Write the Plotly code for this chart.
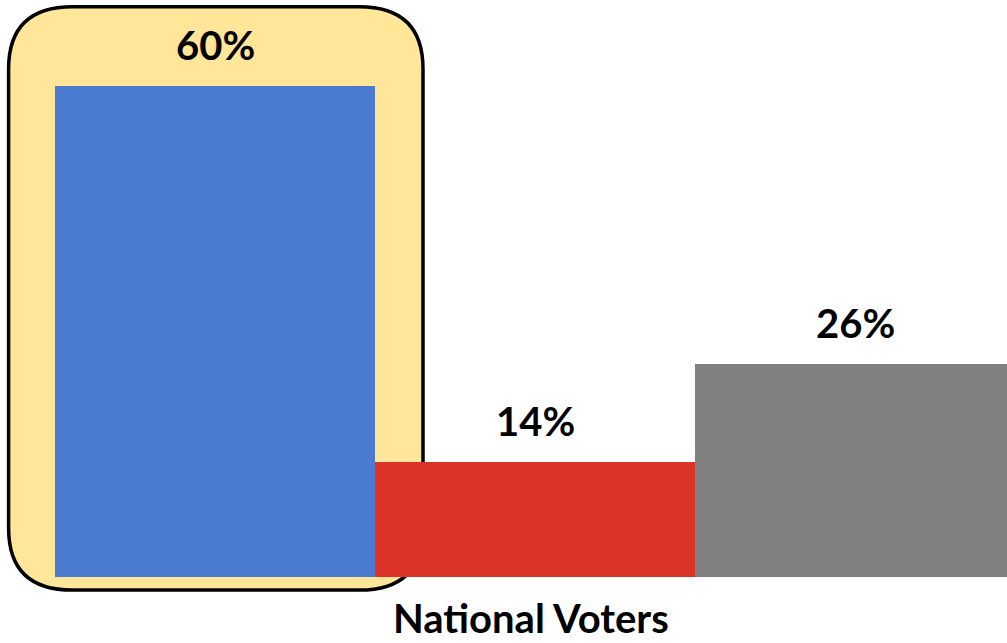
import plotly.graph_objects as go

# data
categories = ["Group A", "Group B", "Group C"]
shares = [60, 14, 26]
labels = ["60%", "14%", "26%"]
bar_colors = ["#4A7BD0", "#DC3328", "#808080"]
axis_title = "National Voters"

FONT = "Lato, Carlito, Calibri, sans-serif"

fig = go.Figure()

fig.add_trace(go.Bar(
    x=[0, 1, 2],
    y=shares,
    width=1,
    marker=dict(color=bar_colors, line=dict(width=0)),
    hoverinfo="skip",
))

# value labels above each bar
for i, (v, t) in enumerate(zip(shares, labels)):
    fig.add_annotation(x=i, y=v, text=f"<b>{t}</b>", showarrow=False,
                       yanchor="bottom", yshift=15,
                       font=dict(family=FONT, size=40, color="black"))

# rounded highlight box around the first bar
x0, x1, y0, y1 = -0.645, 0.65, -1.6, 69.7
rx, ry = 0.2, 7.6
path = (f"M {x0 + rx},{y1} L {x1 - rx},{y1} Q {x1},{y1} {x1},{y1 - ry} "
        f"L {x1},{y0 + ry} Q {x1},{y0} {x1 - rx},{y0} "
        f"L {x0 + rx},{y0} Q {x0},{y0} {x0},{y0 + ry} "
        f"L {x0},{y1 - ry} Q {x0},{y1} {x0 + rx},{y1} Z")
fig.add_shape(type="path", path=path, xref="x", yref="y", layer="below",
              fillcolor="#FFE699", line=dict(color="black", width=3.5))

# axis title
fig.add_annotation(x=0.9875, y=0, xref="x", yref="paper", yanchor="top", yshift=1,
                   text=f"<b>{axis_title}</b>", showarrow=False,
                   font=dict(family=FONT, size=40, color="black"))

fig.update_xaxes(range=[-0.671875, 2.475], visible=False, fixedrange=True)
fig.update_yaxes(range=[-1.955, 70.51], visible=False, fixedrange=True)
fig.update_layout(
    width=1007, height=643,
    margin=dict(l=0, r=0, t=0, b=50),
    bargap=0,
    showlegend=False,
    plot_bgcolor="white",
    paper_bgcolor="white",
)

fig.write_html("out.html", config={"displayModeBar": False},
               post_script="document.body.style.margin='0';document.body.style.overflow='hidden';")
